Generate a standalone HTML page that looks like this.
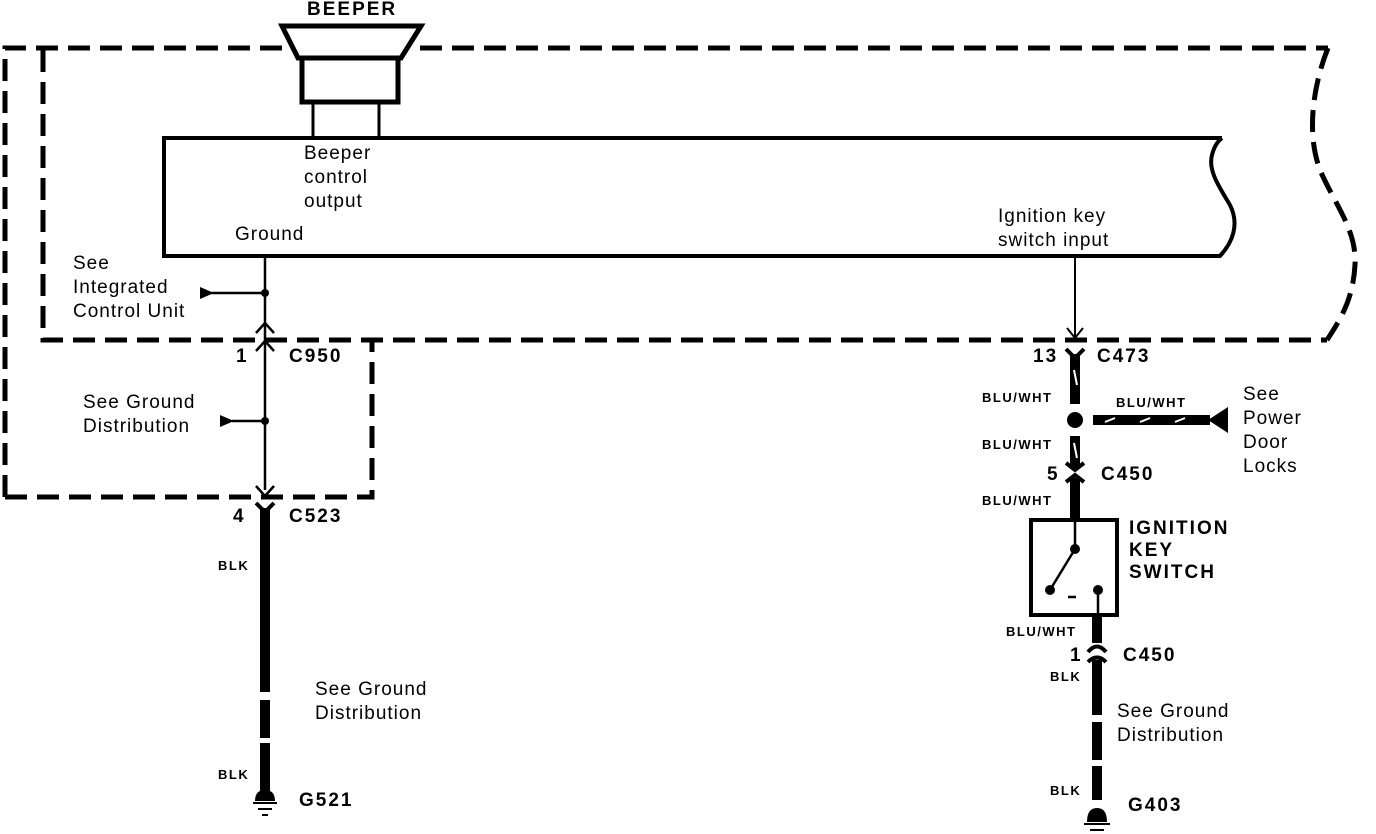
<!DOCTYPE html>
<html><head><style>
body{margin:0;background:#fff;}
svg{display:block}
text{font-family:"Liberation Sans",sans-serif;fill:#000}
.l{font-size:19px;letter-spacing:1px}
.b{font-size:19px;font-weight:bold;letter-spacing:2px}
.s{font-size:13px;font-weight:bold;letter-spacing:1.5px}
</style></head><body>
<svg width="1376" height="834" viewBox="0 0 1376 834" xmlns="http://www.w3.org/2000/svg">
<g fill="none" stroke="#000" stroke-width="5" stroke-dasharray="22,10">
<path d="M5,497 L5,48 L1328,48"/>
<path d="M43,50 L43,340 L1327,340"/>
<path d="M1328,48 C1315,80 1305,130 1320,170 C1335,205 1357,230 1355,265 C1353,300 1340,320 1327,340"/>
<path d="M5,497 L372,497 L372,340"/>
</g>
<!-- beeper -->
<rect x="290" y="40" width="120" height="16" fill="#fff"/>
<polygon points="282,26 421,26 401,58 298,58" fill="none" stroke="#000" stroke-width="5"/>
<rect x="302" y="58" width="96" height="44" fill="none" stroke="#000" stroke-width="5"/>
<path d="M313,102 V137 M379,102 V137" stroke="#000" stroke-width="3"/>
<text x="307" y="15" class="b">BEEPER</text>
<!-- module -->
<path d="M1222,138 L164,138 L164,256 L1220,256 C1232,243 1240,225 1230,205 C1218,185 1208,170 1212,155 C1214,147 1218,141 1222,138" fill="none" stroke="#000" stroke-width="4"/>
<text class="l" x="304" y="159">Beeper</text>
<text class="l" x="304" y="183">control</text>
<text class="l" x="304" y="207">output</text>
<text class="l" x="235" y="240">Ground</text>
<text class="l" x="998" y="222">Ignition key</text>
<text class="l" x="998" y="246">switch input</text>
<!-- left ground wire -->
<path d="M265,256 V490" stroke="#000" stroke-width="2.5"/>
<circle cx="265" cy="293" r="4"/>
<path d="M212,293 H265" stroke="#000" stroke-width="2.5"/>
<polygon points="200,287 214,293 200,299"/>
<circle cx="265" cy="421" r="4"/>
<path d="M232,421 H265" stroke="#000" stroke-width="2.5"/>
<polygon points="220,415 234,421 220,427"/>
<path d="M256,333 L265,323 L274,333 M256,351 L265,341 L274,351 M256,486 L265,496 L274,486" fill="none" stroke="#000" stroke-width="2.5"/>
<text class="l" x="73" y="269">See</text>
<text class="l" x="73" y="293">Integrated</text>
<text class="l" x="73" y="317">Control Unit</text>
<text class="b" x="236" y="362">1</text>
<text class="b" x="289" y="362">C950</text>
<text class="l" x="83" y="408">See Ground</text>
<text class="l" x="83" y="432">Distribution</text>
<!-- C523 -->
<path d="M256,503 L265,512 L274,503" fill="none" stroke="#000" stroke-width="4"/>
<path d="M265,508 V692 M265,700 V738 M265,743 V780" stroke="#000" stroke-width="10"/>
<path d="M265,780 V794" stroke="#000" stroke-width="10"/>
<path d="M255,801 Q255,790 265,790 Q275,790 275,801 Z"/>
<path d="M253,803 H277 M258,809 H272 M262,815 H268" stroke="#000" stroke-width="2"/>
<text class="b" x="233" y="522">4</text>
<text class="b" x="289" y="522">C523</text>
<text class="s" x="218" y="570">BLK</text>
<text class="s" x="218" y="779">BLK</text>
<text class="l" x="315" y="695">See Ground</text>
<text class="l" x="315" y="719">Distribution</text>
<text class="b" x="299" y="806">G521</text>
<!-- right -->
<path d="M1075,256 V338" stroke="#000" stroke-width="2"/>
<path d="M1067,328 L1075,338 L1083,328" fill="none" stroke="#000" stroke-width="2"/>
<path d="M1066,349 L1075,358 L1084,349" fill="none" stroke="#000" stroke-width="4"/>
<path d="M1075,354 V404" stroke="#000" stroke-width="10"/>
<path d="M1074,370 L1077,385" stroke="#fff" stroke-width="2"/>
<circle cx="1075" cy="420" r="8"/>
<path d="M1093,420 H1210" stroke="#000" stroke-width="10"/>
<path d="M1105,422 L1115,418 M1140,422 L1150,418 M1175,422 L1185,418" stroke="#fff" stroke-width="2"/>
<polygon points="1228,407 1208,420 1228,433"/>
<path d="M1075,436 V468" stroke="#000" stroke-width="10"/>
<path d="M1074,443 L1077,458" stroke="#fff" stroke-width="2"/>
<path d="M1066,463 L1075,470 L1084,463 M1066,482 L1075,475 L1084,482" fill="none" stroke="#000" stroke-width="4"/>
<path d="M1075,478 V520" stroke="#000" stroke-width="10"/>
<rect x="1031" y="520" width="86" height="95" fill="none" stroke="#000" stroke-width="4"/>
<path d="M1075,520 V549 L1050,590 M1068,597 H1076 M1098,590 V615" stroke="#000" stroke-width="2.5" fill="none"/>
<circle cx="1075" cy="549" r="5"/>
<circle cx="1050" cy="590" r="5"/>
<circle cx="1098" cy="590" r="5"/>
<path d="M1097,615 V643" stroke="#000" stroke-width="10"/>
<path d="M1088,652 Q1097,641 1106,652 M1088,662 Q1097,653 1106,662" fill="none" stroke="#000" stroke-width="4"/>
<path d="M1097,660 V715 M1097,722 V760 M1097,766 V800" stroke="#000" stroke-width="10"/>
<path d="M1087,822 Q1087,808 1097,808 Q1107,808 1107,822 Z"/>
<path d="M1084,824 H1110 M1090,830 H1104" stroke="#000" stroke-width="2"/>
<text class="b" x="1033" y="362">13</text>
<text class="b" x="1097" y="362">C473</text>
<text class="s" x="982" y="402">BLU/WHT</text>
<text class="s" x="1116" y="407">BLU/WHT</text>
<text class="s" x="982" y="449">BLU/WHT</text>
<text class="b" x="1047" y="480">5</text>
<text class="b" x="1101" y="480">C450</text>
<text class="s" x="982" y="505">BLU/WHT</text>
<text class="l" x="1243" y="400">See</text>
<text class="l" x="1243" y="424">Power</text>
<text class="l" x="1243" y="448">Door</text>
<text class="l" x="1243" y="472">Locks</text>
<text class="b" x="1129" y="534">IGNITION</text>
<text class="b" x="1129" y="556">KEY</text>
<text class="b" x="1129" y="578">SWITCH</text>
<text class="s" x="1006" y="636">BLU/WHT</text>
<text class="b" x="1070" y="661">1</text>
<text class="b" x="1123" y="661">C450</text>
<text class="s" x="1050" y="681">BLK</text>
<text class="s" x="1050" y="795">BLK</text>
<text class="l" x="1117" y="717">See Ground</text>
<text class="l" x="1117" y="741">Distribution</text>
<text class="b" x="1128" y="811">G403</text>
</svg>
</body></html>
